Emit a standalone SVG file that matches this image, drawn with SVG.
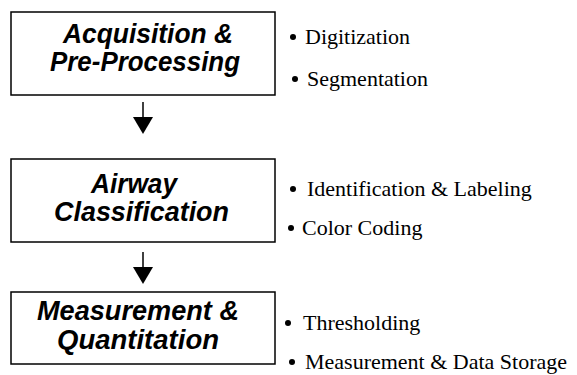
<svg xmlns="http://www.w3.org/2000/svg" width="577" height="375" viewBox="0 0 577 375">
<style>
.box{fill:#fff;stroke:#000;stroke-width:1.5}
.t{font-family:"Liberation Sans",Arial,sans-serif;font-weight:bold;font-style:italic;font-size:27px;fill:#000}
.b{font-family:"Liberation Serif","Times New Roman",serif;font-size:22px;fill:#000}
.dot{fill:#000}
.ln{stroke:#000;stroke-width:1.5;fill:none}
</style>
<rect width="577" height="375" fill="#fff"/>
<g id="node-acquisition">
<rect class="box" x="11" y="12" width="264" height="83"/>
<text class="t" x="63" y="43" font-size="25" textLength="170" lengthAdjust="spacingAndGlyphs">Acquisition &amp;</text>
<text class="t" x="50" y="71" font-size="26" textLength="190" lengthAdjust="spacingAndGlyphs">Pre-Processing</text>
</g>
<g id="node-classification">
<rect class="box" x="11" y="159" width="264" height="83"/>
<text class="t" x="91" y="193" textLength="86" lengthAdjust="spacingAndGlyphs">Airway</text>
<text class="t" x="54" y="221" textLength="175" lengthAdjust="spacingAndGlyphs">Classification</text>
</g>
<g id="node-measurement">
<rect class="box" x="11" y="292" width="264" height="72"/>
<text class="t" x="37" y="320" textLength="202" lengthAdjust="spacingAndGlyphs">Measurement &amp;</text>
<text class="t" x="57" y="349" textLength="162" lengthAdjust="spacingAndGlyphs">Quantitation</text>
</g>
<g id="bullets-acquisition">
<circle class="dot" cx="293" cy="37" r="3"/>
<text class="b" x="305" y="44">Digitization</text>
<circle class="dot" cx="295" cy="79" r="3"/>
<text class="b" x="307" y="86">Segmentation</text>
</g>
<g id="bullets-classification">
<circle class="dot" cx="293" cy="189" r="3"/>
<text class="b" x="307" y="196">Identification &amp; Labeling</text>
<circle class="dot" cx="291" cy="228" r="3"/>
<text class="b" x="302" y="235">Color Coding</text>
</g>
<g id="bullets-measurement">
<circle class="dot" cx="288" cy="323" r="3"/>
<text class="b" x="303" y="330">Thresholding</text>
<circle class="dot" cx="292" cy="362" r="3"/>
<text class="b" x="305" y="369">Measurement &amp; Data Storage</text>
</g>
<g id="connectors">
<line class="ln" x1="143" y1="102" x2="143" y2="118"/>
<polygon points="133,117 153,117 143,134" fill="#000"/>
<line class="ln" x1="143" y1="252" x2="143" y2="268"/>
<polygon points="133,267 153,267 143,284" fill="#000"/>
</g>
</svg>
